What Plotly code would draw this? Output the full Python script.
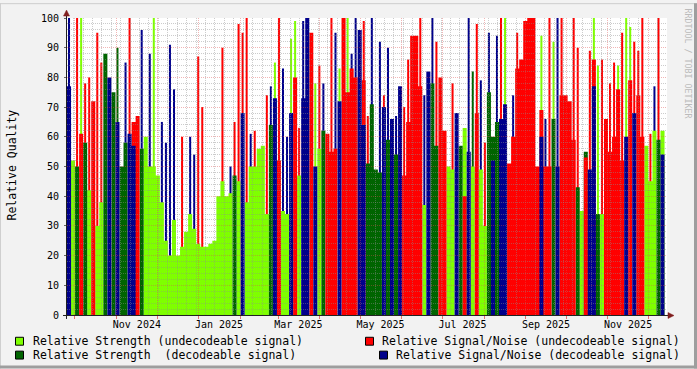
import plotly.graph_objects as go
import pandas as pd

# ---- data: 3-day buckets starting 2024-09-25 (typical level per bucket) ----
# relative strength, undecodeable (light green)
lg = [0, 52, 0, 0, 0, 42, 0, 30, 38, 0,
      0, 0, 0, 0, 0, 0, 0, 0, 0, 60,
      50, 50, 47, 38, 25, 20, 32, 20, 23, 28,
      34, 29, 24, 23, 23, 24, 25, 40, 45, 40,
      41, 0, 45, 0, 38, 50, 50, 56, 57, 34,
      0, 0, 0, 35, 34, 0, 0, 47, 0, 0,
      0, 0, 56, 0, 0, 0, 0, 0, 0, 0,
      0, 0, 0, 0, 0, 0, 0, 0, 0, 0,
      0, 0, 0, 0, 0, 0, 0, 0, 37, 0,
      0, 0, 0, 0, 50, 49, 0, 0, 63, 0,
      50, 0, 49, 30, 0, 0, 0, 0, 0, 0,
      0, 0, 0, 0, 0, 0, 0, 0, 0, 0,
      0, 0, 0, 0, 0, 0, 0, 35, 0, 0,
      0, 0, 34, 0, 0, 0, 0, 0, 0, 0,
      0, 0, 0, 57, 45, 62, 0, 62, 0]
# relative strength, decodeable (dark green)
dg = [65, 0, 50, 0, 58, 0, 0, 0, 0, 88,
      0, 75, 0, 50, 58, 0, 0, 0, 56, 0,
      0, 0, 0, 0, 0, 0, 0, 0, 0, 0,
      0, 0, 0, 0, 0, 0, 0, 0, 0, 0,
      0, 47, 0, 0, 0, 0, 0, 0, 0, 0,
      64, 0, 0, 0, 0, 0, 0, 0, 0, 0,
      0, 0, 0, 62, 0, 0, 0, 0, 0, 0,
      0, 0, 0, 0, 51, 71, 49, 48, 0, 59,
      0, 54, 0, 0, 0, 0, 0, 0, 0, 0,
      78, 57, 0, 0, 0, 0, 0, 57, 0, 0,
      0, 0, 0, 0, 75, 60, 65, 0, 0, 0,
      0, 0, 0, 0, 0, 0, 0, 0, 0, 0,
      66, 0, 0, 0, 0, 0, 43, 0, 55, 0,
      0, 34, 0, 0, 0, 0, 0, 0, 0, 0,
      0, 0, 0, 0, 0, 0, 59, 0, 0]
# relative signal/noise, undecodeable (red)
rd = [0, 0, 0, 61, 0, 0, 72, 0, 0, 0,
      0, 0, 0, 0, 0, 0, 65, 67, 0, 0,
      0, 0, 0, 0, 0, 0, 0, 0, 0, 0,
      0, 0, 0, 0, 0, 0, 0, 0, 0, 0,
      0, 0, 0, 0, 0, 0, 0, 0, 0, 0,
      0, 0, 52, 0, 0, 0, 80, 0, 0, 0,
      95, 0, 0, 0, 61, 55, 56, 0, 100, 75,
      83, 80, 0, 79, 0, 0, 0, 0, 0, 0,
      0, 0, 0, 47, 65, 94, 94, 77, 0, 0,
      0, 0, 80, 62, 0, 0, 0, 0, 40, 0,
      0, 68, 0, 0, 0, 0, 0, 0, 0, 51,
      60, 83, 86, 99, 100, 100, 50, 69, 50, 50,
      0, 0, 74, 74, 72, 59, 0, 0, 53, 0,
      86, 0, 0, 66, 55, 60, 76, 52, 0, 79,
      0, 74, 60, 0, 0, 0, 0, 0, 0]
# relative signal/noise, decodeable (blue)
bl = [77, 0, 0, 0, 0, 0, 0, 0, 0, 0,
      80, 0, 65, 0, 0, 61, 57, 0, 0, 0,
      0, 0, 0, 0, 0, 0, 0, 0, 0, 0,
      0, 0, 0, 0, 0, 0, 0, 0, 0, 0,
      0, 0, 0, 68, 0, 0, 0, 0, 0, 0,
      0, 73, 0, 0, 0, 68, 0, 0, 73, 100,
      0, 50, 0, 0, 0, 0, 0, 72, 0, 0,
      0, 0, 96, 64, 0, 0, 0, 0, 70, 0,
      66, 0, 77, 0, 0, 0, 0, 0, 0, 82,
      0, 0, 0, 0, 0, 0, 68, 0, 0, 55,
      0, 0, 0, 0, 0, 52, 0, 66, 71, 0,
      0, 0, 0, 0, 0, 0, 0, 60, 0, 0,
      0, 50, 0, 0, 0, 0, 0, 0, 0, 49,
      77, 0, 0, 0, 0, 0, 0, 0, 60, 0,
      68, 0, 0, 0, 0, 0, 0, 54, 0]

# ---- short single-sample peaks inside each bucket ----
peak_lg = [0, 0, 0, 100, 0, 0, 0, 0, 0, 0,
           0, 0, 0, 0, 0, 0, 0, 0, 0, 0,
           0, 100, 0, 0, 0, 0, 0, 0, 0, 0,
           0, 0, 0, 0, 0, 0, 0, 0, 0, 0,
           0, 0, 0, 0, 0, 0, 0, 0, 0, 0,
           0, 85, 0, 0, 0, 93, 99, 0, 0, 0,
           0, 78, 0, 0, 0, 0, 0, 83, 0, 100,
           0, 0, 0, 0, 0, 0, 0, 0, 0, 0,
           0, 0, 0, 0, 0, 0, 0, 0, 0, 0,
           0, 0, 0, 0, 0, 0, 0, 0, 0, 0,
           0, 0, 0, 0, 0, 0, 0, 0, 100, 0,
           0, 0, 0, 0, 0, 0, 0, 94, 0, 0,
           92, 0, 0, 0, 0, 0, 0, 0, 0, 0,
           100, 84, 0, 0, 0, 0, 84, 0, 100, 97,
           0, 0, 0, 0, 0, 0, 0, 0, 0]
peak_dg = [0, 0, 0, 0, 0, 0, 0, 0, 0, 0,
           0, 0, 90, 0, 0, 0, 0, 0, 0, 0,
           0, 0, 0, 0, 0, 0, 0, 0, 0, 0,
           0, 0, 0, 0, 0, 0, 0, 0, 0, 0,
           0, 0, 0, 0, 0, 0, 0, 0, 0, 0,
           0, 0, 0, 0, 0, 0, 0, 0, 0, 0,
           0, 0, 0, 0, 0, 0, 0, 0, 0, 0,
           0, 0, 0, 0, 0, 0, 0, 0, 0, 0,
           0, 0, 0, 0, 0, 0, 0, 0, 0, 0,
           0, 0, 0, 0, 0, 0, 0, 0, 0, 0,
           82, 0, 0, 0, 0, 0, 0, 0, 0, 0,
           0, 0, 0, 0, 0, 0, 0, 0, 0, 0,
           0, 0, 0, 0, 0, 0, 0, 0, 0, 0,
           0, 0, 0, 0, 0, 0, 0, 0, 0, 0,
           0, 0, 0, 0, 0, 0, 0, 0, 0]
peak_rd = [0, 49, 100, 0, 78, 80, 0, 95, 85, 0,
           0, 0, 0, 0, 0, 100, 0, 0, 0, 0,
           0, 0, 0, 0, 0, 0, 0, 0, 60, 0,
           0, 0, 87, 70, 0, 0, 0, 0, 90, 0,
           0, 65, 98, 95, 100, 0, 62, 0, 0, 74,
           0, 0, 100, 0, 0, 0, 0, 63, 0, 0,
           0, 0, 84, 0, 0, 100, 0, 0, 0, 0,
           0, 0, 0, 99, 67, 0, 0, 0, 74, 0,
           0, 0, 0, 70, 86, 0, 0, 100, 0, 0,
           0, 92, 0, 0, 0, 78, 0, 0, 0, 0,
           0, 98, 0, 58, 0, 0, 0, 100, 0, 0,
           0, 95, 0, 0, 0, 0, 0, 0, 0, 100,
           0, 0, 100, 0, 0, 100, 90, 0, 0, 89,
           0, 0, 86, 0, 78, 85, 0, 95, 0, 0,
           92, 89, 100, 0, 61, 0, 100, 0, 0]
peak_bl = [100, 0, 0, 0, 0, 0, 0, 0, 0, 0,
           0, 0, 0, 0, 85, 0, 0, 0, 96, 0,
           88, 0, 0, 65, 58, 91, 76, 0, 0, 0,
           60, 54, 0, 0, 0, 0, 0, 0, 0, 0,
           50, 0, 0, 0, 0, 61, 0, 0, 0, 0,
           77, 0, 0, 83, 60, 0, 0, 0, 99, 0,
           0, 0, 0, 78, 0, 0, 95, 0, 0, 0,
           88, 100, 0, 0, 0, 100, 0, 92, 0, 90,
           0, 67, 0, 0, 0, 0, 0, 0, 74, 0,
           100, 0, 0, 0, 0, 0, 0, 0, 0, 100,
           0, 0, 79, 0, 95, 0, 94, 0, 0, 0,
           74, 0, 0, 0, 0, 0, 0, 0, 66, 0,
           0, 100, 0, 0, 0, 0, 0, 0, 0, 0,
           0, 0, 0, 0, 0, 0, 0, 0, 0, 0,
           0, 0, 0, 0, 0, 77, 0, 0, 0]

tick_dates = ["2024-11-16", "2025-01-16", "2025-03-16", "2025-05-16",
              "2025-07-16", "2025-09-16", "2025-11-16"]
tick_text = ["Nov 2024", "Jan 2025", "Mar 2025", "May 2025",
             "Jul 2025", "Sep 2025", "Nov 2025"]
y_ticks = [0, 10, 20, 30, 40, 50, 60, 70, 80, 90, 100]

labels = ["Relative Strength (undecodeable signal)",
          "Relative Strength \u00a0(decodeable signal)",
          "Relative Signal/Noise (undecodeable signal)",
          "Relative Signal/Noise (decodeable signal)"]
colors = ["#7FFF00", "#006400", "#FF0000", "#00008B"]

x_start = pd.Timestamp("2024-09-25 02:00")
x_end = pd.Timestamp("2025-12-14 22:00")
edges = pd.date_range(x_start, periods=len(lg) + 1, freq="3D")
centers = edges[:-1] + pd.Timedelta(hours=36)
peak_w = 1.5 * 86400 * 1000

FONT = "DejaVu Sans Mono"
MAJ = "rgba(222,79,79,0.42)"
MIN = "rgba(143,143,143,0.45)"

fig = go.Figure()
for vals, col, name in zip([lg, dg, rd, bl], colors, labels):
    fig.add_trace(go.Scatter(x=edges, y=list(vals) + [0], mode="none",
                             line=dict(shape="hv", width=0), fill="tozeroy",
                             fillcolor=col, name=name, showlegend=False,
                             hoverinfo="skip"))
for vals, col, name in zip([peak_lg, peak_dg, peak_rd, peak_bl], colors, labels):
    fig.add_trace(go.Bar(x=centers, y=[v if v else None for v in vals], width=peak_w,
                         marker=dict(color=col, line=dict(width=0)), name=name,
                         showlegend=False, hoverinfo="skip"))
# a second subplot at the same place, drawn later, carries the grid above the data
fig.add_trace(go.Scatter(x=[], y=[], xaxis="x2", yaxis="y2", showlegend=False,
                         hoverinfo="skip"))


def px(x):
    return (x - 67) / 600.0


def py(y):
    return (315 - y) / 300.0


fig.update_layout(
    width=697, height=369, autosize=False,
    margin=dict(l=67, r=30, t=15, b=54, pad=0),
    paper_bgcolor="#F2F2F2", plot_bgcolor="rgba(0,0,0,0)",
    showlegend=False, barmode="overlay",
    font=dict(family=FONT, color="#000000"),
    xaxis=dict(type="date", range=[x_start, x_end], domain=[0, 1], anchor="y",
               showgrid=False, zeroline=False,
               showline=False, tickmode="array", tickvals=tick_dates, ticktext=tick_text,
               ticks="", tickfont=dict(family=FONT, size=10, color="#000"),
               ticklabelstandoff=2, fixedrange=True),
    yaxis=dict(range=[0, 100], domain=[0, 1], anchor="x", showgrid=False,
               zeroline=False, showline=False,
               tickmode="array", tickvals=y_ticks, ticks="outside", ticklen=2,
               tickcolor="#666", tickfont=dict(family=FONT, size=10, color="#000"),
               ticklabelstandoff=3, fixedrange=True),
    xaxis2=dict(type="date", domain=[0, 1], anchor="y2", range=[x_start, x_end],
                showgrid=True, gridcolor=MAJ, griddash="1px,1px", gridwidth=1,
                zeroline=False, showticklabels=False, tick0="2024-10-01", dtick="M1",
                ticks="outside", ticklen=3, tickcolor="rgba(222,79,79,0.8)",
                minor=dict(tick0="2024-09-30", dtick=7 * 86400 * 1000, showgrid=True,
                           gridcolor=MIN, griddash="1px,1px", gridwidth=1, ticks=""),
                fixedrange=True),
    yaxis2=dict(domain=[0, 1], anchor="x2", range=[0, 100], showgrid=True,
                gridcolor=MAJ, griddash="1px,1px", gridwidth=1, zeroline=False,
                showticklabels=False, tick0=0, dtick=10, ticks="",
                minor=dict(tick0=0, dtick=2, showgrid=True, gridcolor=MIN,
                           griddash="1px,1px", gridwidth=1),
                fixedrange=True),
)

shapes = []
# white canvas below everything
shapes.append(dict(type="rect", xref="paper", yref="paper", x0=0, x1=1, y0=0, y1=1,
                   layer="below", fillcolor="#FFFFFF", line=dict(width=0)))
# frame shading
shapes.append(dict(type="line", xref="paper", yref="paper", x0=px(0), x1=px(697),
                   y0=py(0.5), y1=py(0.5), line=dict(color="#CFCFCF", width=1)))
shapes.append(dict(type="line", xref="paper", yref="paper", x0=px(0.5), x1=px(0.5),
                   y0=py(0), y1=py(369), line=dict(color="#CFCFCF", width=1)))
shapes.append(dict(type="line", xref="paper", yref="paper", x0=px(0), x1=px(697),
                   y0=py(367.5), y1=py(367.5), line=dict(color="#9E9E9E", width=3)))
shapes.append(dict(type="line", xref="paper", yref="paper", x0=px(695.5), x1=px(695.5),
                   y0=py(0), y1=py(369), line=dict(color="#9E9E9E", width=3)))
# axes
AX = "#202020"
shapes.append(dict(type="line", xref="paper", yref="paper", x0=px(63), x1=px(669),
                   y0=py(315.5), y1=py(315.5), line=dict(color=AX, width=1)))
shapes.append(dict(type="line", xref="paper", yref="paper", x0=px(66.5), x1=px(66.5),
                   y0=py(319), y1=py(12), line=dict(color=AX, width=1)))
ARR = "#801F1F"
shapes.append(dict(type="path", xref="paper", yref="paper",
                   path=f"M {px(668)} {py(312.5)} L {px(674)} {py(315.5)} L {px(668)} {py(318.5)} Z",
                   fillcolor=ARR, line=dict(color=ARR, width=0.5)))
shapes.append(dict(type="path", xref="paper", yref="paper",
                   path=f"M {px(63.5)} {py(13)} L {px(66.5)} {py(7)} L {px(69.5)} {py(13)} Z",
                   fillcolor=ARR, line=dict(color=ARR, width=0.5)))
# legend boxes
boxes = [(15, 337), (15, 351), (365, 337), (379, 351)]
for (bx, by), col in zip(boxes, colors):
    shapes.append(dict(type="rect", xref="paper", yref="paper",
                       x0=px(bx + 0.5), x1=px(bx + 8.5), y0=py(by + 0.5), y1=py(by + 8.5),
                       fillcolor=col, line=dict(color="#000000", width=1)))

annotations = []
text_pos = [(30.5, 341), (30.5, 355.5), (380, 341), (394.3, 355.5)]
for (tx, ty), lab in zip(text_pos, labels):
    annotations.append(dict(xref="paper", yref="paper", x=px(tx), y=py(ty), text=lab,
                            showarrow=False, xanchor="left", yanchor="middle",
                            font=dict(family=FONT, size=11.5, color="#000")))
annotations.append(dict(xref="paper", yref="paper", x=px(12), y=py(164),
                        text="Relative Quality", textangle=-90, showarrow=False,
                        xanchor="center", yanchor="middle",
                        font=dict(family=FONT, size=11.5, color="#000")))
annotations.append(dict(xref="paper", yref="paper", x=px(688), y=py(61),
                        text="RRDTOOL / TOBI OETIKER", textangle=90, showarrow=False,
                        xanchor="center", yanchor="middle",
                        font=dict(family=FONT, size=8.3, color="#BBBBBB")))

fig.update_layout(shapes=shapes, annotations=annotations)
fig.write_html("out.html")
